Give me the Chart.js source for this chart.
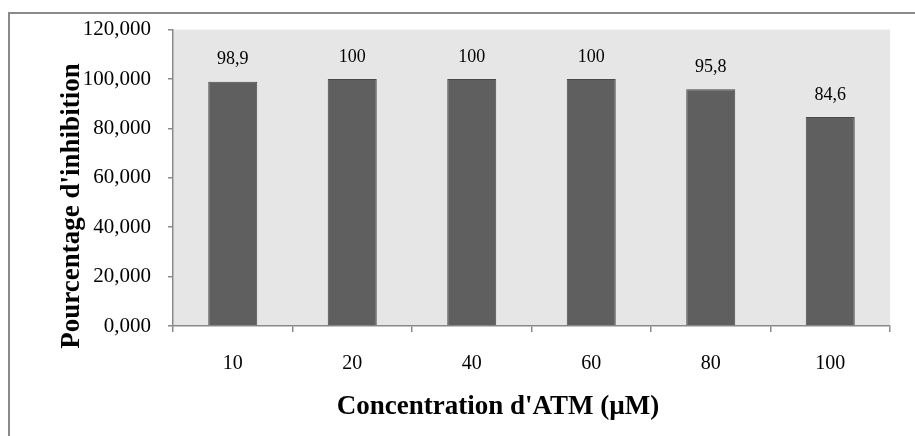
<!DOCTYPE html>
<html>
<head>
<meta charset="utf-8">
<script src="https://cdn.jsdelivr.net/npm/chart.js@4"></script>
<style>
  html, body { margin: 0; padding: 0; background: #fff; }
  #wrap { width: 915px; height: 436px; }
</style>
</head>
<body>
<div id="wrap"><canvas id="chart" width="915" height="436"></canvas></div>
<script>
const categories = ['10', '20', '40', '60', '80', '100'];
const inhibition = [98.9, 100, 100, 100, 95.8, 84.6];
const yTicks = [0, 20, 40, 60, 80, 100, 120];
const xTitle = "Concentration d'ATM (µM)";
const yTitle = "Pourcentage d'inhibition";

const serif = '"Liberation Serif", "Times New Roman", serif';

// frame + grey plot background
const backdrop = {
  id: 'backdrop',
  beforeDraw(chart) {
    const { ctx, chartArea } = chart;
    ctx.save();
    ctx.fillStyle = '#e6e6e6';
    ctx.fillRect(chartArea.left, chartArea.top, chartArea.right - chartArea.left, chartArea.bottom - chartArea.top);
    ctx.strokeStyle = '#8a8a8a';
    ctx.lineWidth = 2;
    ctx.beginPath();
    ctx.moveTo(9, 436);
    ctx.lineTo(9, 13);
    ctx.lineTo(915, 13);
    ctx.stroke();
    ctx.restore();
  }
};

// value labels above bars + axis titles (excel centres them on the whole frame, not the plot)
const labels = {
  id: 'labels',
  afterDatasetsDraw(chart) {
    const { ctx } = chart;
    const meta = chart.getDatasetMeta(0);
    ctx.save();
    ctx.font = '18px ' + serif;
    ctx.fillStyle = '#000';
    ctx.textAlign = 'center';
    ctx.textBaseline = 'middle';
    meta.data.forEach((bar, i) => {
      const txt = String(inhibition[i]).replace('.', ',');
      ctx.fillText(txt, bar.x, bar.y - 22);
    });

    ctx.font = 'bold 27px ' + serif;
    ctx.fillText(xTitle, 498, 407);
    ctx.translate(72, 206);
    ctx.rotate(-Math.PI / 2);
    ctx.fillText(yTitle, 0, 0);
    ctx.restore();
  }
};

new Chart(document.getElementById('chart'), {
  type: 'bar',
  data: {
    labels: categories,
    datasets: [{
      data: inhibition,
      backgroundColor: '#5f5f5f',
      borderColor: '#4a4a4a',
      borderWidth: 1,
      categoryPercentage: 1,
      barPercentage: 0.41
    }]
  },
  options: {
    responsive: false,
    animation: false,
    layout: { padding: { top: 26, right: 25, left: 0, bottom: 0 } },
    plugins: {
      legend: { display: false },
      tooltip: { enabled: false }
    },
    scales: {
      x: {
        afterFit(scale) { scale.height = 110; },
        grid: { offset: true, drawOnChartArea: false, drawTicks: true, tickLength: 6, color: '#8a8a8a', lineWidth: 1.5 },
        border: { display: true, color: '#8a8a8a', width: 1.5 },
        ticks: { color: '#000', padding: 20, font: { family: serif, size: 20 } }
      },
      y: {
        min: 0,
        max: 120,
        afterFit(scale) { scale.width = 173; },
        afterBuildTicks(scale) { scale.ticks = yTicks.map(v => ({ value: v })); },
        grid: { drawOnChartArea: false, drawTicks: true, tickLength: 5, color: '#8a8a8a', lineWidth: 1.5 },
        border: { display: true, color: '#8a8a8a', width: 1.5 },
        ticks: {
          color: '#000',
          padding: 17,
          font: { family: serif, size: 21 },
          callback: (v) => v.toFixed(3).replace('.', ',')
        }
      }
    }
  },
  plugins: [backdrop, labels]
});
</script>
</body>
</html>
